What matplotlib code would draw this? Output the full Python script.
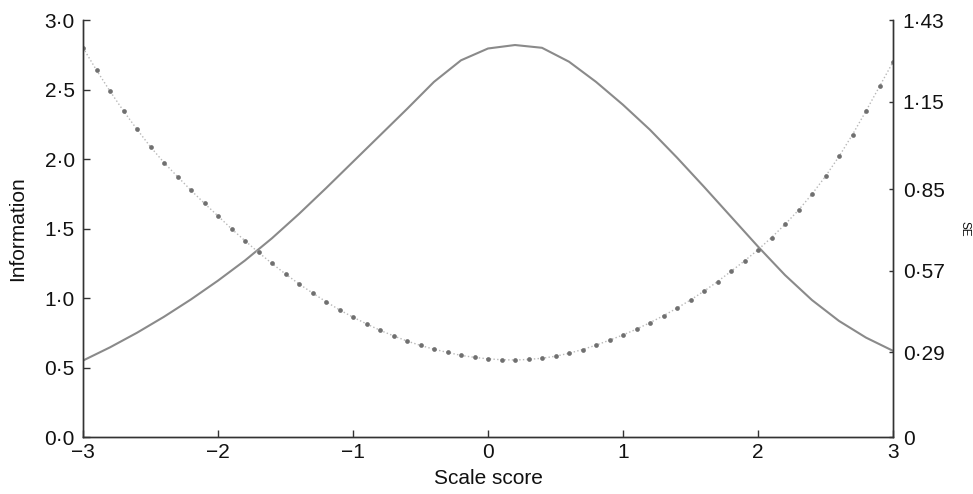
import matplotlib
matplotlib.use("Agg")
import matplotlib.pyplot as plt

plt.rcParams['font.family'] = ['Liberation Sans', 'DejaVu Sans']

# Information curve (left axis), step 0.2
info_x = [-3.0, -2.8, -2.6, -2.4, -2.2, -2.0, -1.8, -1.6, -1.4, -1.2, -1.0,
          -0.8, -0.6, -0.4, -0.2, 0.0, 0.2, 0.4, 0.6, 0.8, 1.0,
          1.2, 1.4, 1.6, 1.8, 2.0, 2.2, 2.4, 2.6, 2.8, 3.0]
info_y = [0.55, 0.645, 0.75, 0.865, 0.99, 1.125, 1.27, 1.43, 1.605, 1.79, 1.98,
          2.17, 2.36, 2.555, 2.71, 2.795, 2.82, 2.80, 2.70, 2.555, 2.39,
          2.21, 2.01, 1.80, 1.585, 1.37, 1.165, 0.985, 0.835, 0.715, 0.62]

# SE curve (right axis), step 0.1
se_x = [-3.0, -2.9, -2.8, -2.7, -2.6, -2.5, -2.4, -2.3, -2.2, -2.1,
        -2.0, -1.9, -1.8, -1.7, -1.6, -1.5, -1.4, -1.3, -1.2, -1.1,
        -1.0, -0.9, -0.8, -0.7, -0.6, -0.5, -0.4, -0.3, -0.2, -0.1,
        0.0, 0.1, 0.2, 0.3, 0.4, 0.5, 0.6, 0.7, 0.8, 0.9,
        1.0, 1.1, 1.2, 1.3, 1.4, 1.5, 1.6, 1.7, 1.8, 1.9,
        2.0, 2.1, 2.2, 2.3, 2.4, 2.5, 2.6, 2.7, 2.8, 2.9, 3.0]
se_y = [1.335, 1.258, 1.186, 1.118, 1.055, 0.995, 0.941, 0.893, 0.846, 0.801,
        0.758, 0.714, 0.673, 0.633, 0.595, 0.559, 0.525, 0.494, 0.464, 0.436,
        0.411, 0.388, 0.366, 0.347, 0.329, 0.314, 0.301, 0.290, 0.280, 0.273,
        0.268, 0.265, 0.264, 0.266, 0.270, 0.277, 0.287, 0.300, 0.315, 0.332,
        0.350, 0.370, 0.392, 0.416, 0.442, 0.470, 0.500, 0.533, 0.568, 0.604,
        0.642, 0.684, 0.729, 0.778, 0.833, 0.894, 0.962, 1.037, 1.118, 1.202, 1.286]

x_ticks = [-3, -2, -1, 0, 1, 2, 3]
x_ticklabels = ['\u22123', '\u22122', '\u22121', '0', '1', '2', '3']
left_ticks = [0.0, 0.5, 1.0, 1.5, 2.0, 2.5, 3.0]
left_ticklabels = ['0\u00b70', '0\u00b75', '1\u00b70', '1\u00b75', '2\u00b70', '2\u00b75', '3\u00b70']
right_ticks = [0, 0.29, 0.57, 0.85, 1.15, 1.43]
right_ticklabels = ['0', '0\u00b729', '0\u00b757', '0\u00b785', '1\u00b715', '1\u00b743']

fig = plt.figure(figsize=(9.73, 4.94), dpi=100)
ax = fig.add_axes([83/973, (494-437)/494, (893-83)/973, (437-20)/494])
ax2 = ax.twinx()

ax.plot(info_x, info_y, color='#8a8a8a', lw=1.5, solid_capstyle='round', solid_joinstyle='round')
ax2.plot(se_x, se_y, color='#b8b8b8', lw=1.0, ls=':')
ax2.plot(se_x, se_y, ls='none', marker='o', ms=3.4, mfc='#707070', mec='none')

ax.set_xlim(-3, 3)
ax.set_ylim(0, 3)
ax2.set_ylim(0, 1.43)

ax.set_xticks(x_ticks)
ax.set_xticklabels(x_ticklabels)
ax.set_yticks(left_ticks)
ax.set_yticklabels(left_ticklabels)
ax2.set_yticks(right_ticks)
ax2.set_yticklabels(right_ticklabels)

for a in (ax, ax2):
    a.spines['top'].set_visible(False)
    for s in a.spines.values():
        s.set_linewidth(1.0)
        s.set_color('#333333')
    a.tick_params(direction='in', width=1.0, labelsize=15, colors='#333333')
    a.tick_params(labelcolor='#111111')
ax.tick_params(axis='x', length=5, pad=4)
ax.tick_params(axis='y', length=5, pad=6)
ax2.tick_params(axis='y', length=3, pad=7)

ax.set_xlabel('Scale score', fontsize=15, va='center', color='#111111')
ax.xaxis.set_label_coords(0.5, (437-478)/417)
ax.set_ylabel('Information', fontsize=15, va='center', color='#111111')
ax.yaxis.set_label_coords((18-83)/810, 0.5)
ax2.set_ylabel('SE', fontsize=8.5, rotation=270, va='center', ha='center', color='#111111')
ax2.yaxis.set_label_coords((965-83)/810, 0.5)

fig.savefig('out.png', dpi=100)
